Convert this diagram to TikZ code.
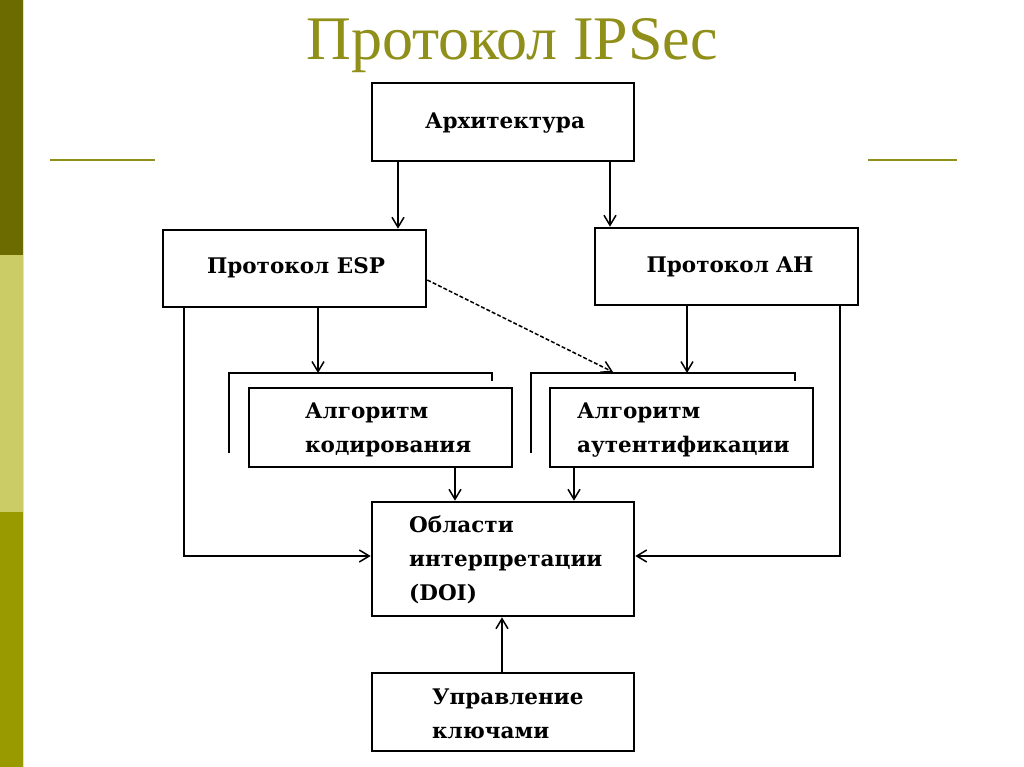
\documentclass[tikz,border=0pt]{standalone}
\usepackage{fontspec}
\setmainfont{Liberation Serif}
\newfontfamily\boxfont{DejaVu Serif}
\usetikzlibrary{arrows.meta}
\definecolor{bartop}{HTML}{6B6B00}
\definecolor{barmid}{HTML}{CCCC66}
\definecolor{barbot}{HTML}{999900}
\definecolor{baredge}{HTML}{E8E890}
\definecolor{titleol}{HTML}{8F8F1A}
\tikzset{
  blk/.style={draw=black, line width=2.6pt, fill=white, inner sep=0pt},
  lbl/.style={font=\boxfont\bfseries\fontsize{21.5}{34}\selectfont, inner sep=0pt, align=left},
  conn/.style={draw=black, line width=2pt, -{Straight Barb[length=10pt,width=12pt,line width=1.5pt]}},
  plain/.style={draw=black, line width=2pt},
}
\begin{document}
\begin{tikzpicture}[x=1pt,y=-1pt]
\useasboundingbox (0,0) rectangle (1024,767);
\fill[white] (0,0) rectangle (1024,767);
% left bar
\fill[bartop] (0,0) rectangle (23,255);
\fill[barmid] (0,255) rectangle (23,512);
\fill[barbot] (0,512) rectangle (23,767);
\draw[baredge, line width=1.5pt] (23.5,0) -- (23.5,767);
% decorative lines
\draw[titleol, line width=2.5pt] (50,160) -- (155,160);
\draw[titleol, line width=2.5pt] (868,160) -- (957,160);
% title
\node[text=titleol, font=\fontsize{62}{66}\selectfont, inner sep=0pt] (title) at (512,46) {Протокол IPSec};
% boxes
\node[blk, minimum width=262pt, minimum height=78pt] (arch) at (503,122) {};
\node[blk, minimum width=263pt, minimum height=77pt] (esp) at (294.5,268.5) {};
\node[blk, minimum width=263pt, minimum height=77pt] (ah) at (726.5,266.5) {};
% brackets
\draw[plain] (229,453) -- (229,373) -- (492,373) -- (492,381);
\draw[plain] (531,453) -- (531,373) -- (795,373) -- (795,381);
\coordinate (brk1) at (318,373);
\coordinate (brk2) at (687,373);
\coordinate (brk2d) at (613,372);
\node[blk, minimum width=263pt, minimum height=79pt] (kod) at (380.5,427.5) {};
\node[blk, minimum width=263pt, minimum height=79pt] (aut) at (681.5,427.5) {};
\node[blk, minimum width=262pt, minimum height=114pt] (doi) at (503,559) {};
\node[blk, minimum width=262pt, minimum height=78pt] (key) at (503,712) {};
% labels
\node[lbl] (tarch) at (505,123) {Архитектура};
\node[lbl] (tesp) at (296,268) {Протокол ESP};
\node[lbl] (tah) at (730,267) {Протокол AH};
\node[lbl, anchor=west] (tkod) at (305,430) {Алгоритм\\кодирования};
\node[lbl, anchor=west] (taut) at (577,430) {Алгоритм\\аутентификации};
\node[lbl, anchor=west] (tdoi) at (409,560) {Области\\интерпретации\\(DOI)};
\node[lbl, anchor=west] (tkey) at (432,714) {Управление\\ключами};
% connectors
\draw[conn] (arch.south -| 398,0) -- (esp.north -| 398,0);
\draw[conn] (arch.south -| 610,0) -- (ah.north -| 610,0);
\draw[conn] (esp.south -| brk1) -- (brk1);
\draw[conn] (ah.south -| brk2) -- (brk2);
\draw[conn, line width=1.5pt, dash pattern=on 4pt off 2pt] (esp.east |- 0,280) -- (brk2d);
\draw[conn] (kod.south -| 455,0) -- (doi.north -| 455,0);
\draw[conn] (aut.south -| 574,0) -- (doi.north -| 574,0);
\draw[conn] (esp.south -| 184,0) -- (184,556) -- (doi.west |- 0,556);
\draw[conn] (ah.south -| 840,0) -- (840,556) -- (doi.east |- 0,556);
\draw[conn] (key.north -| 502,0) -- (doi.south -| 502,0);
\end{tikzpicture}
\end{document}
